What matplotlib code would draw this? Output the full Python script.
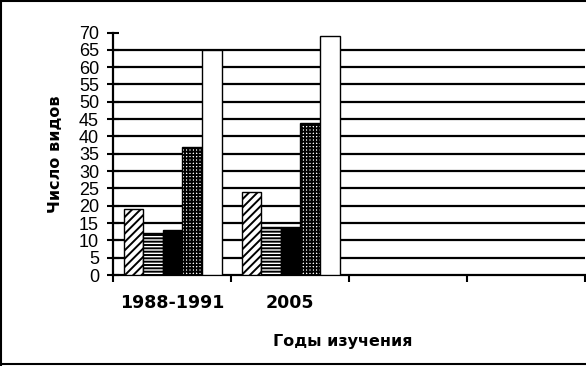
import numpy as np
import matplotlib
matplotlib.use('Agg')
import matplotlib.pyplot as plt
from matplotlib.lines import Line2D

# data
years = ['1988-1991', '2005', '', '']
s1 = [19, 24]   # diagonal hatch
s2 = [12, 14]   # horizontal hatch
s3 = [13, 14]   # solid black
s4 = [37, 44]   # fine checker
s5 = [65, 69]   # white
series = [s1, s2, s3, s4, s5]
hatches = ['////', '-----', '', '+++++', '']
colors = ['white', 'white', 'black', 'white', 'white']

plt.rcParams['hatch.linewidth'] = 1.4
plt.rcParams['hatch.color'] = 'black'

fig = plt.figure(figsize=(5.86, 3.66), dpi=100)
ax = fig.add_axes([0.1928, 0.2486, 0.8055, 0.6626])

bw = 0.166
x0 = np.arange(len(s1)) + 0.09
for i, vals in enumerate(series):
    ax.bar(x0 + i * bw, vals, width=bw, align='edge', color=colors[i],
           hatch=hatches[i], edgecolor='black', linewidth=1, zorder=3)

ax.set_xlim(0, len(years))
ax.set_ylim(0, 70)
ax.set_yticks(np.arange(0, 71, 5))
ax.yaxis.grid(True, color='black', linewidth=1.6)
ax.set_axisbelow(True)
gl = ax.get_ygridlines()
gl[0].set_visible(False)
gl[-1].set_visible(False)

# category boundaries as major ticks, names as minor ticks
ax.set_xticks(np.arange(0, len(years) + 1))
ax.set_xticklabels([])
ax.set_xticks(np.arange(len(years)) + 0.5, minor=True)
ax.set_xticklabels(years, minor=True, fontsize=12.5, fontweight='bold',
                   family='DejaVu Sans')
ax.tick_params(axis='x', which='major', direction='out', length=5, width=1.5)
ax.tick_params(axis='x', which='minor', length=0, pad=14)
ax.tick_params(axis='y', direction='inout', length=8, width=1.5, pad=6)
for lab in ax.get_yticklabels():
    lab.set_family('Liberation Sans')
    lab.set_fontsize(13)

for side in ['top', 'right']:
    ax.spines[side].set_visible(False)
ax.spines['left'].set_linewidth(1.6)
ax.spines['bottom'].set_linewidth(1.6)

fig.text(0.094, 0.58, 'Число видов', rotation=90, ha='center', va='center',
         fontsize=11.5, fontweight='bold', family='DejaVu Sans')
fig.text(0.585, 0.066, 'Годы изучения', ha='center', va='center',
         fontsize=11.5, fontweight='bold', family='DejaVu Sans')

# frame round the picture (right edge is cut off in the original)
for xs, ys in [([0.001, 0.001], [0, 1]), ([0, 1], [0.998, 0.998]), ([0, 1], [0.005, 0.005])]:
    fig.add_artist(Line2D(xs, ys, transform=fig.transFigure, color='black', linewidth=1.5))

fig.savefig('out.png', dpi=100)
